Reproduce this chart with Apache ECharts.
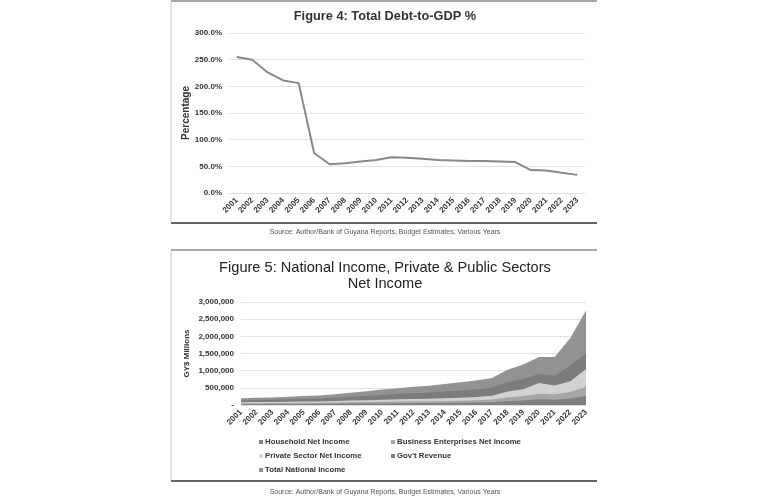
<!DOCTYPE html>
<html>
<head>
<meta charset="utf-8">
<script src="https://cdn.jsdelivr.net/npm/echarts@6/dist/echarts.min.js"></script>
<style>
html,body{margin:0;padding:0;background:#fff;}
#c{width:768px;height:503px;}
</style>
</head>
<body>
<div id="c"></div>
<script>
var years = ['2001','2002','2003','2004','2005','2006','2007','2008','2009','2010','2011','2012','2013','2014','2015','2016','2017','2018','2019','2020','2021','2022','2023'];
var debtToGdp = [255,250,226,211,206,75,54,56,59,62,67,66,64,62,61,60,60,59,58,43,42,38,34];

var totalNationalIncome = [200000,210000,220000,240000,260000,280000,310000,360000,400000,450000,490000,530000,560000,610000,660000,710000,790000,1030000,1180000,1400000,1400000,1950000,2750000];
var govRevenue = [140000,145000,155000,165000,175000,190000,210000,240000,265000,290000,320000,345000,365000,395000,425000,455000,500000,660000,760000,900000,850000,1150000,1500000];
var privateSector = [80000,85000,90000,95000,100000,105000,115000,130000,140000,150000,165000,175000,185000,195000,210000,230000,270000,390000,460000,640000,570000,690000,1050000];
var businessNet = [50000,52000,55000,58000,62000,66000,72000,80000,86000,92000,100000,106000,112000,118000,126000,136000,160000,220000,260000,330000,310000,380000,530000];
var householdNet = [25000,26000,28000,30000,32000,34000,37000,41000,44000,47000,51000,54000,57000,60000,64000,70000,82000,110000,130000,165000,155000,190000,260000];

var legendNames = ['Household Net Income','Business Enterprises Net Income','Private Sector Net Income',"Gov't Revenue",'Total National Income'];

var col = {
  total:'#929292', gov:'#7c7c7c', priv:'#d2d2d2', bus:'#a6a6a6', hh:'#808080'
};

var chart = echarts.init(document.getElementById('c'));
var FF = 'Liberation Sans, Arial, sans-serif';
var lblFont = {fontFamily:FF, fontWeight:'bold', fontSize:8, color:'#333'};

function legendAt(name, left, top){
  return {
    left:left, top:top, orient:'horizontal', data:[name], icon:'rect',
    itemWidth:4, itemHeight:4, itemGap:3,
    textStyle:{fontFamily:FF, fontWeight:'bold', fontSize:7.8, color:'#333', padding:[0,0,0,-3]},
    selectedMode:false
  };
}

function fmtNum(v){
  if(v===0) return '-';
  return String(v).replace(/\B(?=(\d{3})+(?!\d))/g, ',');
}

var option = {
  backgroundColor:'#fff',
  animation:false,
  legend:[
    legendAt(legendNames[0], 254, 433),
    legendAt(legendNames[1], 386, 433),
    legendAt(legendNames[2], 254, 447),
    legendAt(legendNames[3], 386, 447),
    legendAt(legendNames[4], 254, 461)
  ],
  grid:[
    {left:229, right:183, top:33, bottom:310},
    {left:241, right:182, top:302, bottom:98}
  ],
  xAxis:[
    {type:'category', gridIndex:0, data:years, boundaryGap:true,
     axisLine:{lineStyle:{color:'#e0e0e0'}}, axisTick:{show:false},
     axisLabel:Object.assign({rotate:45, margin:6, interval:0}, lblFont)},
    {type:'category', gridIndex:1, data:years, boundaryGap:false,
     axisLine:{lineStyle:{color:'#e0e0e0'}}, axisTick:{show:false},
     axisLabel:Object.assign({rotate:45, margin:6, interval:0}, lblFont)}
  ],
  yAxis:[
    {type:'value', gridIndex:0, min:0, max:300, interval:50,
     name:'Percentage', nameLocation:'middle', nameGap:37, nameRotate:90,
     nameTextStyle:{fontFamily:FF, fontWeight:'bold', fontSize:10, color:'#333'},
     axisLine:{show:false}, axisTick:{show:false},
     splitLine:{lineStyle:{color:'#e3e3e3'}},
     axisLabel:Object.assign({margin:7, formatter:function(v){return v.toFixed(1)+'%';}}, lblFont)},
    {type:'value', gridIndex:1, min:0, max:3000000, interval:500000,
     name:'GY$ Millions', nameLocation:'middle', nameGap:50, nameRotate:90,
     nameTextStyle:{fontFamily:FF, fontWeight:'bold', fontSize:8, color:'#333'},
     axisLine:{show:false}, axisTick:{show:false},
     splitLine:{lineStyle:{color:'#e3e3e3'}},
     axisLabel:Object.assign({margin:7, formatter:fmtNum}, lblFont)}
  ],
  series:[
    {type:'line', name:'Debt-to-GDP', xAxisIndex:0, yAxisIndex:0, data:debtToGdp,
     symbol:'none', lineStyle:{color:'#888', width:2}, itemStyle:{color:'#888'}},
    {type:'line', name:legendNames[4], xAxisIndex:1, yAxisIndex:1, data:totalNationalIncome,
     symbol:'none', lineStyle:{width:0}, itemStyle:{color:col.total}, areaStyle:{color:col.total, opacity:1}},
    {type:'line', name:legendNames[3], xAxisIndex:1, yAxisIndex:1, data:govRevenue,
     symbol:'none', lineStyle:{width:0}, itemStyle:{color:col.gov}, areaStyle:{color:col.gov, opacity:1}},
    {type:'line', name:legendNames[2], xAxisIndex:1, yAxisIndex:1, data:privateSector,
     symbol:'none', lineStyle:{width:0}, itemStyle:{color:col.priv}, areaStyle:{color:col.priv, opacity:1}},
    {type:'line', name:legendNames[1], xAxisIndex:1, yAxisIndex:1, data:businessNet,
     symbol:'none', lineStyle:{width:0}, itemStyle:{color:col.bus}, areaStyle:{color:col.bus, opacity:1}},
    {type:'line', name:legendNames[0], xAxisIndex:1, yAxisIndex:1, data:householdNet,
     symbol:'none', lineStyle:{width:0}, itemStyle:{color:col.hh}, areaStyle:{color:col.hh, opacity:1}}
  ],
  graphic:[
    {type:'text', x:385, y:16, style:{text:'Figure 4: Total Debt-to-GDP %', align:'center', verticalAlign:'middle', fontFamily:FF, fontWeight:'bold', fontSize:12.8, fill:'#333'}},
    {type:'text', x:385, y:268, style:{text:'Figure 5: National Income, Private & Public Sectors', align:'center', verticalAlign:'middle', fontFamily:FF, fontSize:14.6, fill:'#222'}},
    {type:'text', x:385, y:284, style:{text:'Net Income', align:'center', verticalAlign:'middle', fontFamily:FF, fontSize:14.6, fill:'#222'}},
    {type:'line', shape:{x1:171,y1:1,x2:597,y2:1}, style:{stroke:'#8a8a8a', lineWidth:1.5}},
    {type:'line', shape:{x1:171,y1:1,x2:171,y2:223}, style:{stroke:'#c8c8c8', lineWidth:1}},
    {type:'line', shape:{x1:171,y1:223,x2:597,y2:223}, style:{stroke:'#333', lineWidth:1.5}},
    {type:'text', x:385, y:232, style:{text:'Source: Author/Bank of Guyana Reports, Budget Estimates, Various Years', align:'center', verticalAlign:'middle', fontFamily:FF, fontSize:7, fill:'#555'}},
    {type:'line', shape:{x1:171,y1:250,x2:597,y2:250}, style:{stroke:'#8a8a8a', lineWidth:1.5}},
    {type:'line', shape:{x1:171,y1:250,x2:171,y2:481}, style:{stroke:'#c8c8c8', lineWidth:1}},
    {type:'line', shape:{x1:171,y1:481,x2:597,y2:481}, style:{stroke:'#333', lineWidth:1.5}},
    {type:'text', x:385, y:492, style:{text:'Source: Author/Bank of Guyana Reports, Budget Estimates, Various Years', align:'center', verticalAlign:'middle', fontFamily:FF, fontSize:7, fill:'#555'}}
  ]
};
chart.setOption(option);
</script>
</body>
</html>
